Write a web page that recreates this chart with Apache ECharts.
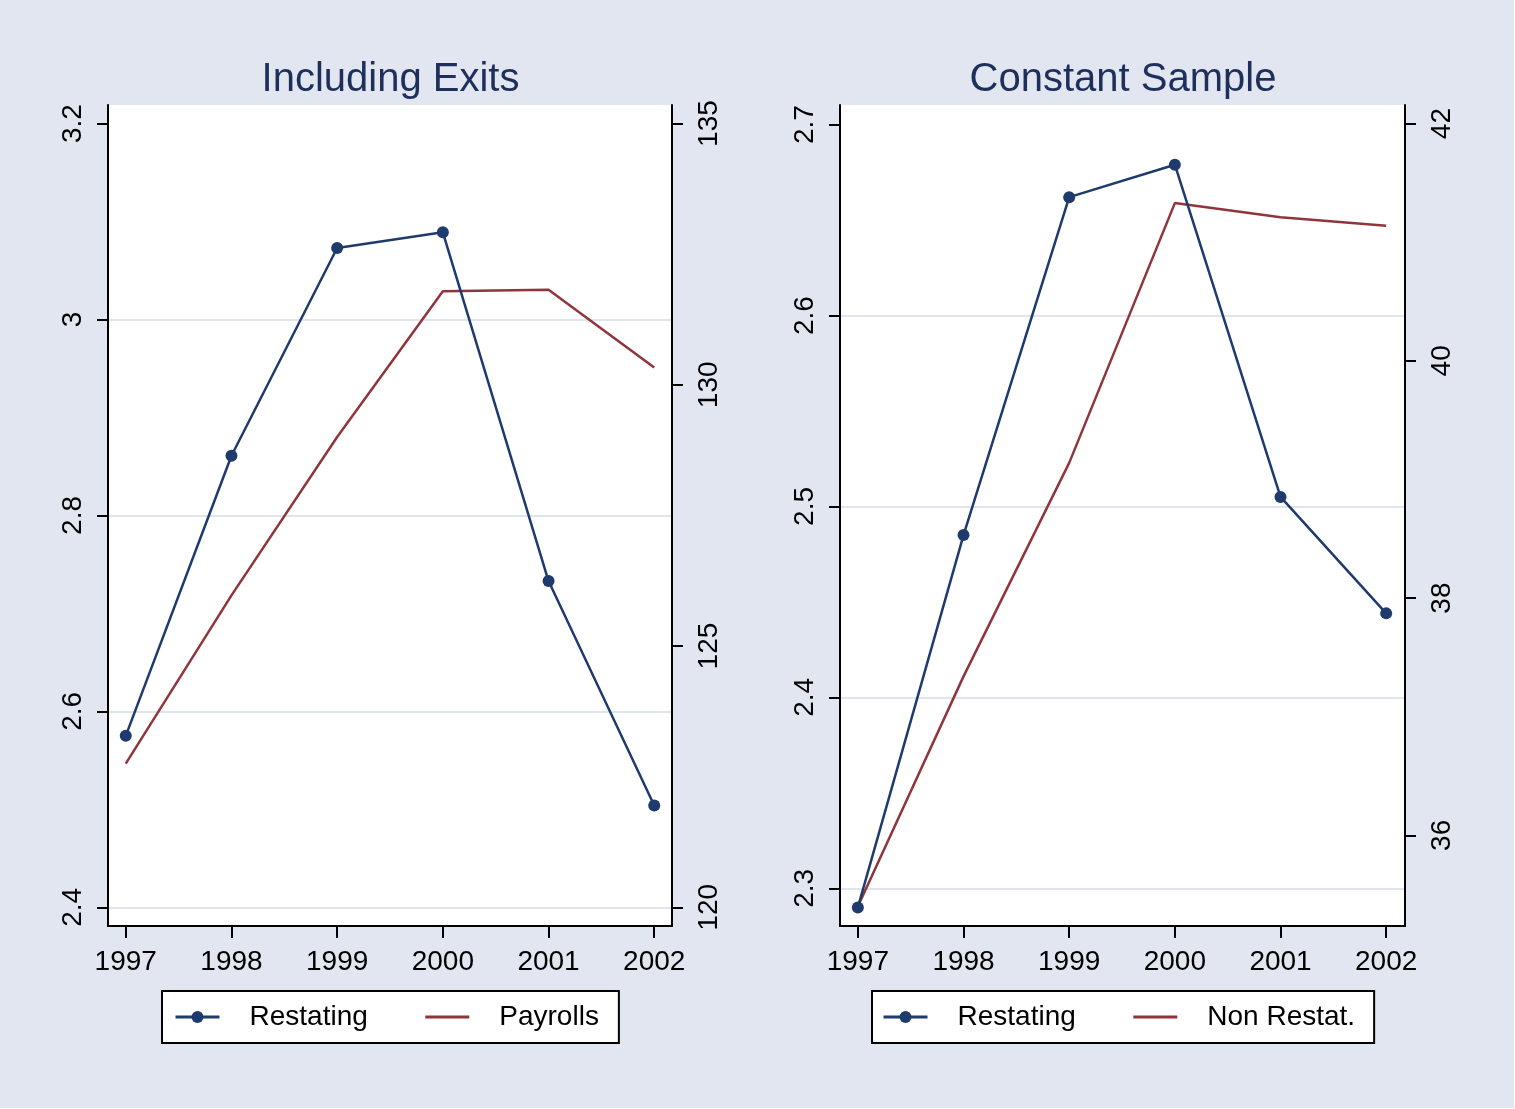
<!DOCTYPE html>
<html><head><meta charset="utf-8">
<script src="https://cdn.jsdelivr.net/npm/echarts@6/dist/echarts.min.js"></script>
<style>html,body{margin:0;padding:0;background:#fff;} #c{width:1514px;height:1108px;}</style>
</head><body><div id="c"></div>
<script>
// ---- data ----
const years = [1997, 1998, 1999, 2000, 2001, 2002];
const exitsRestating = [2.575, 2.861, 3.073, 3.089, 2.733, 2.504];
const exitsPayrolls = [122.75, 125.97, 129.0, 131.79, 131.82, 130.33];
const constRestating = [2.290, 2.485, 2.662, 2.679, 2.505, 2.444];
const constNonRestat = [35.40, 37.34, 39.14, 41.33, 41.21, 41.14];
const exitsLeftTicks = [2.4, 2.6, 2.8, 3.0, 3.2];
const exitsRightTicks = [120, 125, 130, 135];
const constLeftTicks = [2.3, 2.4, 2.5, 2.6, 2.7];
const constRightTicks = [36, 38, 40, 42];
const panelTitles = ['Including Exits', 'Constant Sample'];

// ---- styles ----
const BG = '#e1e6f0';
const GRIDC = '#dfe4ee';
const BLUE = '#1f3a6d';
const RED = '#90353b';
const TITLEC = '#1e2f5c';
const FONT = '"Liberation Sans", Arial, Helvetica, sans-serif';

function pairs(xs, ys) { return xs.map((x, i) => [x, ys[i]]); }

function xAxisOf(idx, min, max) {
  return {
    type: 'value', gridIndex: idx, min: min, max: max,
    axisLine: { show: true, onZero: false, lineStyle: { color: '#000', width: 2 } },
    axisTick: { show: true, length: 12, lineStyle: { color: '#000', width: 2 }, customValues: years },
    axisLabel: { customValues: years, formatter: v => String(v), fontSize: 28, color: '#000', fontFamily: FONT, margin: 22 },
    splitLine: { show: false }
  };
}
function yAxisOf(idx, pos, min, max, ticks, grid) {
  const cols = ticks.map((t, i) => i === ticks.length - 1 ? 'rgba(0,0,0,0)' : GRIDC);
  return {
    type: 'value', gridIndex: idx, position: pos, min: min, max: max,
    axisLine: { show: true, onZero: false, lineStyle: { color: '#000', width: 2 } },
    axisTick: { show: true, length: 11, lineStyle: { color: '#000', width: 2 }, customValues: ticks },
    axisLabel: { customValues: ticks, rotate: 90, fontSize: 28, color: '#000', fontFamily: FONT,
      margin: pos === 'left' ? 21 : 23,
      formatter: v => String(+v.toFixed(4)) },
    splitLine: { show: grid, lineStyle: { color: cols, width: 2 } }
  };
}
function legendOf(left, data, pad) {
  return {
    left: left, top: 991, orient: 'horizontal', data: data,
    itemWidth: 44, itemHeight: 15, itemGap: 56,
    padding: pad, borderColor: '#000', borderWidth: 2, backgroundColor: '#fff',
    selectedMode: false,
    lineStyle: { width: 3 },
    textStyle: { fontSize: 28, color: '#000', fontFamily: FONT, padding: [0, 0, 0, 25] }
  };
}

const chart = echarts.init(document.getElementById('c'), null, { renderer: 'canvas' });
chart.setOption({
  backgroundColor: BG,
  animation: false,
  grid: [
    { left: 108, right: 842, top: 105, bottom: 182, show: true, backgroundColor: '#fff', borderWidth: 0, outerBoundsMode: 'none' },
    { left: 840, right: 109, top: 105, bottom: 182, show: true, backgroundColor: '#fff', borderWidth: 0, outerBoundsMode: 'none' }
  ],
  graphic: [
    { type: 'text', x: 390.5, y: 80, style: { text: panelTitles[0], fill: TITLEC, font: '40px ' + FONT, align: 'center', verticalAlign: 'middle' } },
    { type: 'text', x: 1123, y: 80, style: { text: panelTitles[1], fill: TITLEC, font: '40px ' + FONT, align: 'center', verticalAlign: 'middle' } }
  ],
  legend: [
    legendOf(162, ['Restating', { name: 'Payrolls', itemStyle: { opacity: 0 } }], [12, 20, 12, 12]),
    legendOf(872, ['Restating', { name: 'Non Restat.', itemStyle: { opacity: 0 } }], [12, 19, 12, 10])
  ],
  xAxis: [
    xAxisOf(0, 1996.832, 2002.168),
    xAxisOf(1, 1996.831, 2002.178)
  ],
  yAxis: [
    yAxisOf(0, 'left', 2.3809, 3.2190, exitsLeftTicks, true),
    yAxisOf(0, 'right', 119.642, 135.355, exitsRightTicks, false),
    yAxisOf(1, 'left', 2.28026, 2.71026, constLeftTicks, true),
    yAxisOf(1, 'right', 35.2357, 42.157, constRightTicks, false)
  ],
  series: [
    { name: 'Payrolls', type: 'line', xAxisIndex: 0, yAxisIndex: 1, data: pairs(years, exitsPayrolls),
      symbol: 'none', lineStyle: { color: RED, width: 2.5 }, itemStyle: { color: RED }, z: 2 },
    { name: 'Restating', type: 'line', xAxisIndex: 0, yAxisIndex: 0, data: pairs(years, exitsRestating),
      symbol: 'circle', symbolSize: 12, lineStyle: { color: BLUE, width: 2.5 }, itemStyle: { color: BLUE }, z: 3 },
    { name: 'Non Restat.', type: 'line', xAxisIndex: 1, yAxisIndex: 3, data: pairs(years, constNonRestat),
      symbol: 'none', lineStyle: { color: RED, width: 2.5 }, itemStyle: { color: RED }, z: 2 },
    { name: 'Restating', type: 'line', xAxisIndex: 1, yAxisIndex: 2, data: pairs(years, constRestating),
      symbol: 'circle', symbolSize: 12, lineStyle: { color: BLUE, width: 2.5 }, itemStyle: { color: BLUE }, z: 3 }
  ]
});
</script></body></html>
